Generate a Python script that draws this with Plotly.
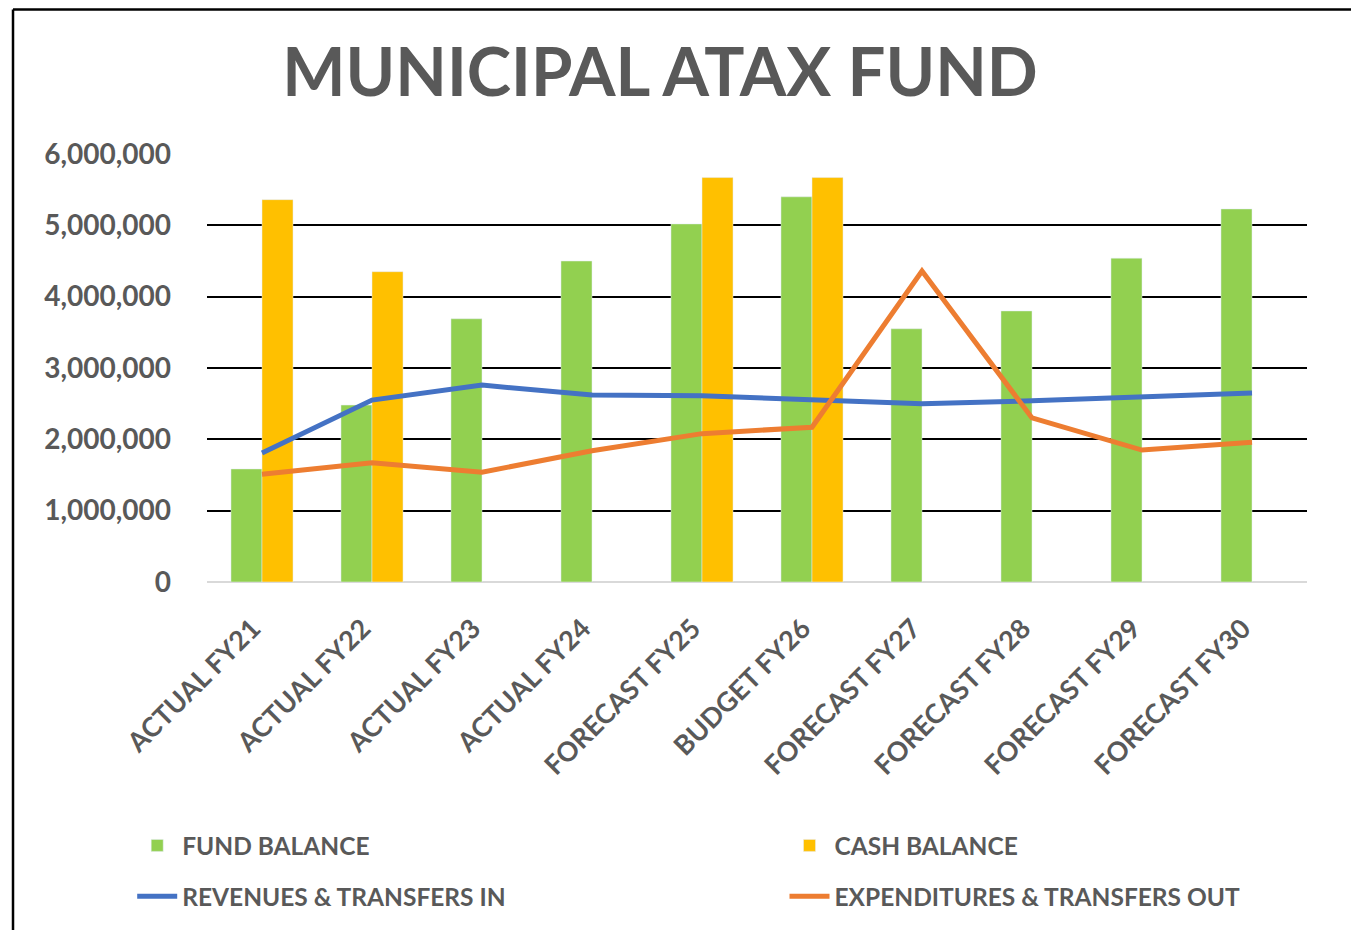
import plotly.graph_objects as go

categories = ["ACTUAL FY21", "ACTUAL FY22", "ACTUAL FY23", "ACTUAL FY24", "FORECAST FY25",
              "BUDGET FY26", "FORECAST FY27", "FORECAST FY28", "FORECAST FY29", "FORECAST FY30"]
fund_balance = [1585000, 2480000, 3690000, 4500000, 5020000, 5400000, 3550000, 3800000, 4540000, 5230000]
cash_balance = [5360000, 4350000, None, None, 5670000, 5670000, None, None, None, None]
revenues = [1810000, 2550000, 2760000, 2620000, 2610000, 2560000, 2500000, 2540000, 2590000, 2650000]
expenditures = [1510000, 1670000, 1540000, 1840000, 2080000, 2170000, 4360000, 2300000, 1850000, 1960000]
y_ticks = [0, 1000000, 2000000, 3000000, 4000000, 5000000, 6000000]

TXT = "#595959"
FONT = "Lato"

fig = go.Figure()
fig.add_trace(go.Bar(name="FUND BALANCE", x=categories, y=fund_balance, marker_color="#92D050",
                     legend="legend", legendgroup="a", legendrank=1))
fig.add_trace(go.Bar(name="CASH BALANCE", x=categories, y=cash_balance, marker_color="#FFC000",
                     legend="legend2", legendgroup="b", legendrank=1))
fig.add_trace(go.Scatter(name="REVENUES & TRANSFERS IN", x=categories, y=revenues, mode="lines",
                         line=dict(color="#4472C4", width=5), legend="legend", legendgroup="c", legendrank=2))
fig.add_trace(go.Scatter(name="EXPENDITURES & TRANSFERS OUT", x=categories, y=expenditures, mode="lines",
                         line=dict(color="#ED7D31", width=5), legend="legend2", legendgroup="d", legendrank=2))

legend_common = dict(orientation="v", yanchor="top", xanchor="left", tracegroupgap=16,
                     font=dict(family=FONT, size=24.5, color=TXT, weight="bold"),
                     bgcolor="rgba(0,0,0,0)", itemwidth=40)

fig.update_layout(
    width=1351, height=922,
    margin=dict(l=199, r=52, t=146, b=348, autoexpand=False),
    paper_bgcolor="white", plot_bgcolor="white",
    barmode="group", bargap=0.436, bargroupgap=0,
    title=dict(text="MUNICIPAL ATAX FUND", x=0.4826, xanchor="center", y=0.9295, yanchor="middle",
               font=dict(family=FONT, size=67, color=TXT, weight="bold")),
    legend=dict(x=-0.068, y=-0.563, **legend_common),
    legend2=dict(x=0.525, y=-0.563, **legend_common),
    xaxis=dict(tickangle=-45, tickfont=dict(family=FONT, size=27, color=TXT, weight="bold"),
               ticksuffix="\u00a0\u00a0",
               showgrid=False, showline=False, ticks="", ticklabelstandoff=15),
    yaxis=dict(range=[0, 6000000], tickvals=y_ticks, tickformat=",",
               tickfont=dict(family=FONT, size=28, color=TXT, weight="bold"),
               showgrid=True, gridcolor="black", gridwidth=2,
               zeroline=True, zerolinecolor="#D9D9D9", zerolinewidth=2,
               showline=False, ticks="", ticklabelstandoff=35),
    shapes=[
        dict(type="line", xref="paper", yref="paper", x0=-0.17636, x1=1.2, y0=1.3376, y1=1.3376,
             line=dict(color="black", width=2.5)),
        dict(type="line", xref="paper", yref="paper", x0=-0.17636, x1=-0.17636, y0=-0.9, y1=1.3376,
             line=dict(color="black", width=2.5)),
    ],
)

fig.write_html("out.html")
